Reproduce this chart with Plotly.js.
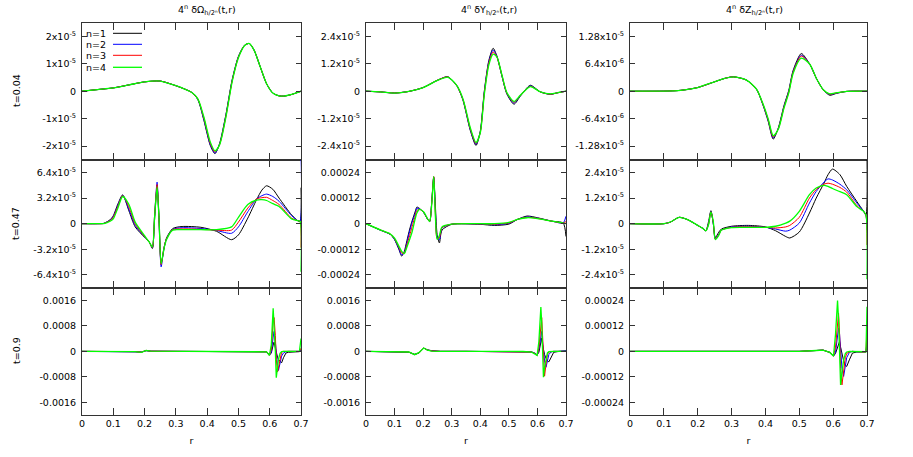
<!DOCTYPE html>
<html><head><meta charset="utf-8">
<script src="https://cdn.plot.ly/plotly-3.0.1.min.js"></script>
<style>html,body{margin:0;padding:0;background:#fff}#chart{width:913px;height:457px}</style>
</head><body><div id="chart"></div>
<script>
// ---------- DATA ----------
const seriesNames = ['n=1', 'n=2', 'n=3', 'n=4'];
const columnTitles = ['4<sup>n</sup> δΩ<sub>h/2ⁿ</sub>(t,r)', '4<sup>n</sup> δY<sub>h/2ⁿ</sub>(t,r)', '4<sup>n</sup> δZ<sub>h/2ⁿ</sub>(t,r)'];
const rowLabels = ['t=0.04', 't=0.47', 't=0.9'];
const xTickVals = [0, 0.1, 0.2, 0.3, 0.4, 0.5, 0.6, 0.7];
const xTickText = ['0', '0.1', '0.2', '0.3', '0.4', '0.5', '0.6', '0.7'];

// Row 1 (t=0.04), Omega, unit 1e-5
const A_unit = 1e-5;
const A_r  = [0, 0.05, 0.1, 0.15, 0.2, 0.25, 0.3, 0.33, 0.35, 0.37, 0.39, 0.41, 0.425, 0.44, 0.46, 0.48, 0.5, 0.52, 0.535, 0.55, 0.57, 0.59, 0.61, 0.63, 0.645, 0.67, 0.69, 0.7];
const A_n1 = [0, 0.06, 0.12, 0.23, 0.34, 0.37, 0.2, 0.07, -0.04, -0.3, -1.08, -1.98, -2.28, -1.9, -0.85, 0.42, 1.27, 1.68, 1.74, 1.5, 0.88, 0.27, -0.07, -0.17, -0.18, -0.12, -0.04, 0];
const A_n2 = [0, 0.06, 0.12, 0.23, 0.34, 0.37, 0.2, 0.07, -0.04, -0.29, -1.05, -1.95, -2.26, -1.92, -0.88, 0.4, 1.26, 1.68, 1.74, 1.5, 0.88, 0.27, -0.07, -0.17, -0.18, -0.12, -0.04, 0];
const A_n3 = [0, 0.06, 0.12, 0.23, 0.34, 0.37, 0.2, 0.07, -0.04, -0.28, -1.0, -1.9, -2.22, -1.94, -0.92, 0.37, 1.24, 1.68, 1.74, 1.5, 0.88, 0.27, -0.07, -0.17, -0.18, -0.12, -0.04, 0];
const A_n4 = [0, 0.06, 0.12, 0.23, 0.34, 0.37, 0.2, 0.07, -0.04, -0.27, -0.96, -1.85, -2.18, -1.95, -0.95, 0.35, 1.22, 1.67, 1.74, 1.5, 0.88, 0.27, -0.07, -0.17, -0.18, -0.12, -0.04, 0];

// Row 1 (t=0.04), Y, unit 1e-5
const B_unit = 1e-5;
const B_r  = [0, 0.05, 0.1, 0.15, 0.2, 0.25, 0.285, 0.3, 0.32, 0.34, 0.365, 0.385, 0.4, 0.414, 0.43, 0.445, 0.458, 0.476, 0.493, 0.518, 0.54, 0.575, 0.61, 0.645, 0.67, 0.7];
const B_n1 = [0, -0.03, -0.08, -0.01, 0.16, 0.48, 0.64, 0.5, 0.2, -0.42, -1.72, -2.38, -1.75, 0, 1.35, 1.88, 1.55, 0.65, -0.12, -0.57, -0.22, 0.26, -0.03, -0.14, -0.07, 0];
const B_n2 = [0, -0.03, -0.08, -0.01, 0.16, 0.48, 0.63, 0.5, 0.2, -0.4, -1.68, -2.33, -1.78, -0.05, 1.3, 1.8, 1.52, 0.66, -0.1, -0.52, -0.2, 0.23, -0.03, -0.13, -0.07, 0];
const B_n3 = [0, -0.03, -0.08, -0.01, 0.16, 0.48, 0.63, 0.5, 0.2, -0.38, -1.64, -2.29, -1.8, -0.1, 1.24, 1.72, 1.5, 0.68, -0.08, -0.48, -0.19, 0.21, -0.03, -0.13, -0.07, 0];
const B_n4 = [0, -0.03, -0.08, -0.01, 0.16, 0.47, 0.62, 0.5, 0.21, -0.36, -1.6, -2.25, -1.82, -0.15, 1.15, 1.62, 1.5, 0.7, -0.06, -0.45, -0.18, 0.2, -0.03, -0.12, -0.07, 0];

// Row 1 (t=0.04), Z, unit 1e-6
const C_unit = 1e-6;
const C_r  = [0, 0.1, 0.15, 0.2, 0.25, 0.28, 0.305, 0.344, 0.374, 0.393, 0.408, 0.423, 0.438, 0.455, 0.469, 0.482, 0.506, 0.531, 0.551, 0.571, 0.59, 0.61, 0.64, 0.7];
const C_n1 = [0, 0.02, 0.2, 0.86, 2.2, 3.0, 3.36, 2.6, 0.4, -3.3, -7.0, -11.2, -8.6, -3.3, 0.2, 4.9, 8.8, 6.3, 2.9, 0.3, -0.95, -0.5, -0.05, 0];
const C_n2 = [0, 0.02, 0.2, 0.86, 2.2, 3.0, 3.36, 2.6, 0.4, -3.2, -6.8, -10.9, -8.7, -3.5, 0.0, 4.7, 8.4, 6.3, 2.9, 0.3, -0.8, -0.45, -0.05, 0];
const C_n3 = [0, 0.02, 0.2, 0.86, 2.2, 3.0, 3.36, 2.6, 0.4, -3.1, -6.6, -10.7, -8.8, -3.7, -0.2, 4.5, 8.2, 6.3, 2.9, 0.3, -0.7, -0.4, -0.05, 0];
const C_n4 = [0, 0.02, 0.2, 0.86, 2.2, 3.0, 3.36, 2.6, 0.45, -3.0, -6.4, -10.4, -8.9, -3.9, -0.4, 4.2, 7.7, 6.3, 2.9, 0.35, -0.6, -0.35, -0.05, 0];

// Row 2 (t=0.47), Omega, unit 1e-5
const D_unit = 1e-5;
const D_r  = [0, 0.05, 0.07, 0.09, 0.1, 0.115, 0.13, 0.15, 0.17, 0.2, 0.215, 0.225, 0.232, 0.24, 0.246, 0.253, 0.262, 0.27, 0.29, 0.32, 0.38, 0.43, 0.478, 0.5, 0.53, 0.558, 0.575, 0.59, 0.61, 0.63, 0.67, 0.69, 0.697, 0.7];
const D_n1 = [0, 0, 0.05, 0.5, 1.0, 2.5, 3.6, 1.6, -0.4, -1.7, -2.3, -3.1, 0.5, 4.6, 1.0, -4.9, -3.2, -1.8, -0.6, -0.35, -0.45, -0.95, -2.0, -1.4, 0.7, 3.0, 4.2, 4.74, 4.3, 3.2, 1.1, 0.37, 0.3, 4.5];
const D_n2 = [0, 0, 0.04, 0.45, 0.9, 2.35, 3.55, 1.8, -0.2, -1.65, -2.3, -3.0, 1.0, 5.2, 0.5, -5.4, -3.0, -1.9, -0.7, -0.5, -0.6, -0.85, -1.2, -0.4, 1.5, 3.1, 3.5, 3.7, 3.4, 2.8, 1.0, 0.37, 0.3, 9.0];
const D_n3 = [0, 0, 0.03, 0.4, 0.8, 2.2, 3.5, 2.1, 0.0, -1.6, -2.3, -2.95, 1.0, 4.9, 0.6, -5.1, -3.0, -1.9, -0.75, -0.65, -0.7, -0.8, -0.8, 0.2, 1.95, 3.1, 3.25, 3.3, 2.9, 2.4, 0.7, 0.37, 0.3, -3.0];
const D_n4 = [0, 0, 0.02, 0.3, 0.6, 2.0, 3.4, 2.4, 0.2, -1.5, -2.3, -2.9, 0.8, 4.6, 0.8, -5.0, -3.1, -2.0, -0.8, -0.75, -0.75, -0.75, -0.4, 0.8, 2.4, 2.95, 3.0, 2.9, 2.5, 2.16, 0.6, 0.37, 0.3, -6.0];

// Row 2 (t=0.47), Y, unit 1e-4
const E_unit = 1e-4;
const E_r  = [0, 0.05, 0.085, 0.1, 0.115, 0.125, 0.134, 0.143, 0.153, 0.161, 0.173, 0.178, 0.187, 0.202, 0.216, 0.223, 0.23, 0.237, 0.243, 0.249, 0.257, 0.266, 0.3, 0.4, 0.45, 0.5, 0.53, 0.564, 0.6, 0.65, 0.69, 0.7];
const E_n1 = [0, -0.3, -0.5, -0.75, -1.2, -1.52, -1.3, -0.8, -0.25, 0.12, 0.6, 0.78, 0.72, 0.52, 0.2, 0.1, 1.0, 2.2, 0.8, -0.5, -0.9, -0.3, -0.03, -0.03, -0.08, -0.02, 0.2, 0.36, 0.28, 0.12, 0.03, -0.6];
const E_n2 = [0, -0.3, -0.5, -0.73, -1.17, -1.47, -1.35, -0.9, -0.35, 0.05, 0.52, 0.73, 0.7, 0.52, 0.2, 0.1, 1.0, 2.15, 0.6, -0.65, -0.75, -0.2, -0.02, -0.02, -0.05, 0.02, 0.2, 0.32, 0.26, 0.12, 0.03, 0.35];
const E_n3 = [0, -0.29, -0.49, -0.7, -1.1, -1.38, -1.38, -1.0, -0.55, -0.15, 0.4, 0.62, 0.68, 0.53, 0.21, 0.1, 0.95, 2.2, 0.45, -0.7, -0.65, -0.18, -0.02, -0.01, -0.02, 0.04, 0.2, 0.3, 0.25, 0.12, 0.03, 0.1];
const E_n4 = [0, -0.29, -0.48, -0.68, -1.05, -1.3, -1.4, -1.1, -0.73, -0.4, 0.28, 0.5, 0.67, 0.55, 0.22, 0.1, 0.9, 2.2, 0.3, -0.73, -0.55, -0.15, -0.02, 0.0, 0.0, 0.06, 0.2, 0.28, 0.24, 0.12, 0.03, 0];

// Row 2 (t=0.47), Z, unit 1e-5
const F_unit = 1e-5;
const F_r  = [0, 0.1, 0.12, 0.145, 0.17, 0.2, 0.215, 0.224, 0.232, 0.239, 0.246, 0.252, 0.262, 0.27, 0.3, 0.35, 0.4, 0.43, 0.46, 0.472, 0.5, 0.53, 0.55, 0.573, 0.585, 0.598, 0.62, 0.64, 0.67, 0.69, 0.697, 0.7];
const F_n1 = [0, 0, 0.08, 0.3, 0.19, -0.08, -0.22, -0.33, 0.1, 0.61, 0.0, -0.65, -0.4, -0.25, -0.12, -0.08, -0.15, -0.33, -0.6, -0.67, -0.39, 0.5, 1.2, 1.9, 2.3, 2.56, 2.3, 1.75, 1.04, 0.58, 0.4, 3.2];
const F_n2 = [0, 0, 0.08, 0.3, 0.19, -0.08, -0.22, -0.33, 0.0, 0.58, 0.0, -0.72, -0.5, -0.3, -0.15, -0.12, -0.17, -0.25, -0.35, -0.3, 0.03, 0.97, 1.51, 1.95, 2.1, 2.05, 1.85, 1.59, 0.97, 0.58, 0.4, -0.3];
const F_n3 = [0, 0, 0.08, 0.3, 0.19, -0.08, -0.22, -0.33, -0.02, 0.56, 0.05, -0.74, -0.52, -0.3, -0.17, -0.15, -0.17, -0.2, -0.15, -0.08, 0.3, 1.2, 1.6, 1.85, 1.9, 1.85, 1.7, 1.48, 0.85, 0.58, 0.4, -1.0];
const F_n4 = [0, 0, 0.08, 0.3, 0.19, -0.08, -0.22, -0.33, -0.05, 0.55, 0.1, -0.75, -0.55, -0.3, -0.18, -0.17, -0.17, -0.12, 0.03, 0.12, 0.58, 1.36, 1.67, 1.8, 1.75, 1.65, 1.5, 1.36, 0.8, 0.58, 0.4, -2.6];

// Row 3 (t=0.9), Omega, unit 1e-4
const G_unit = 1e-4;
const G_r  = [0, 0.1, 0.13, 0.17, 0.19, 0.205, 0.22, 0.3, 0.4, 0.5, 0.57, 0.59, 0.599, 0.605, 0.611, 0.614, 0.618, 0.621, 0.625, 0.628, 0.633, 0.638, 0.644, 0.652, 0.66, 0.68, 0.695, 0.7];
const G_n1 = [0, 0, -0.15, -0.1, -0.25, 0.2, 0.05, 0, 0, 0, 0.05, -0.15, -1.1, -0.6, 2.0, 2.9, 1.0, -0.5, -1.8, -2.6, -3.3, -3.6, -2.0, -0.5, -0.3, -0.3, -0.1, 0.5];
const G_n2 = [0, 0, -0.1, -0.1, -0.2, 0.25, 0.05, 0, 0, 0, 0.05, -0.15, -1.2, -0.4, 4.5, 6.25, 3.0, -1.0, -4.5, -6.0, -4.0, -1.5, -0.5, -0.1, 0, 0, 0, 0.3];
const G_n3 = [0, 0, -0.08, -0.1, -0.25, 0.3, 0.05, 0, 0, 0, 0.05, -0.15, -1.25, 0.5, 9.5, 10.6, 5.0, -2.5, -6.5, -5.0, -2.0, -0.3, 0, 0, 0, 0, 0, 1.0];
const G_n4 = [0, 0, -0.05, -0.1, -0.3, 0.3, 0.05, 0, 0, 0, 0.05, -0.15, -1.25, 2.0, 13.5, 9.0, 0.0, -8.3, -5.0, -2.5, -0.6, -0.1, 0, 0, 0, 0, 0, 4.0];

// Row 3 (t=0.9), Y, unit 1e-4
const H_unit = 1e-4;
const H_r  = [0, 0.1, 0.15, 0.17, 0.185, 0.202, 0.215, 0.23, 0.26, 0.35, 0.45, 0.55, 0.58, 0.592, 0.599, 0.605, 0.612, 0.615, 0.618, 0.621, 0.625, 0.63, 0.635, 0.64, 0.648, 0.657, 0.67, 0.69, 0.7];
const H_n1 = [0, -0.2, -0.3, -0.9, -0.6, 1.0, 0.5, 0.2, 0, 0, 0, -0.05, -0.2, -0.6, -1.1, -0.3, 3.0, 4.2, 2.0, 0.3, -1.0, -2.2, -3.0, -3.3, -2.0, -0.3, -0.1, 0, 0.2];
const H_n2 = [0, -0.15, -0.25, -1.0, -0.5, 1.05, 0.4, 0.15, 0, 0, 0, -0.05, -0.2, -0.7, -1.2, 0.5, 5.5, 6.25, 3.0, -0.5, -3.0, -5.0, -3.0, -1.0, -0.2, 0, 0, 0, 0.2];
const H_n3 = [0, -0.12, -0.22, -1.02, -0.45, 1.05, 0.38, 0.12, 0, 0, 0, -0.05, -0.22, -0.75, -1.25, 1.0, 9.5, 10.6, 5.0, -2.0, -7.8, -4.0, -1.0, -0.2, 0, 0, 0, 0, 0];
const H_n4 = [0, -0.1, -0.2, -1.05, -0.4, 1.05, 0.35, 0.1, 0, 0, 0, -0.05, -0.25, -0.8, -1.25, 3.0, 13.9, 9.0, 0.0, -8.1, -5.0, -2.0, -0.5, -0.1, 0, 0, 0, 0, 0];

// Row 3 (t=0.9), Z, unit 1e-5
const I_unit = 1e-5;
const I_r  = [0, 0.3, 0.4, 0.5, 0.55, 0.57, 0.59, 0.596, 0.601, 0.607, 0.613, 0.616, 0.619, 0.622, 0.626, 0.631, 0.636, 0.64, 0.648, 0.657, 0.67, 0.69, 0.697, 0.7];
const I_n1 = [0, 0, 0, 0, 0.4, 0.6, -0.5, -1.5, -2.2, -1.0, 1.5, 3.0, 4.7, 2.0, -1.5, -4.5, -6.5, -7.1, -4.0, -0.8, -0.3, -0.4, -0.3, 4.7];
const I_n2 = [0, 0, 0, 0, 0.4, 0.6, -0.5, -1.5, -2.2, -0.5, 6.0, 11.0, 8.0, 0.0, -8.0, -11.8, -7.0, -3.0, -0.5, 0, -0.2, -0.3, -0.2, 3.0];
const I_n3 = [0, 0, 0, 0, 0.4, 0.6, -0.5, -1.5, -2.2, 2.0, 14.0, 18.0, 8.0, -8.0, -15.8, -9.0, -3.0, -1.0, -0.3, 0, -0.2, -0.3, -0.2, 11.0];
const I_n4 = [0, 0, 0, 0, 0.4, 0.6, -0.5, -1.5, -2.2, 8.0, 24.0, 15.0, 0.0, -15.8, -10.0, -4.0, -1.0, -0.3, 0, 0, -0.2, -0.3, -0.2, 21.0];

// Y tick values / labels per panel
const A_ytv = [2e-5, 1e-5, 0, -1e-5, -2e-5];
const A_ytt = ['2x10<sup>-5</sup>', '1x10<sup>-5</sup>', '0', '-1x10<sup>-5</sup>', '-2x10<sup>-5</sup>'];
const B_ytv = [2.4e-5, 1.2e-5, 0, -1.2e-5, -2.4e-5];
const B_ytt = ['2.4x10<sup>-5</sup>', '1.2x10<sup>-5</sup>', '0', '-1.2x10<sup>-5</sup>', '-2.4x10<sup>-5</sup>'];
const C_ytv = [1.28e-5, 6.4e-6, 0, -6.4e-6, -1.28e-5];
const C_ytt = ['1.28x10<sup>-5</sup>', '6.4x10<sup>-6</sup>', '0', '-6.4x10<sup>-6</sup>', '-1.28x10<sup>-5</sup>'];
const D_ytv = [6.4e-5, 3.2e-5, 0, -3.2e-5, -6.4e-5];
const D_ytt = ['6.4x10<sup>-5</sup>', '3.2x10<sup>-5</sup>', '0', '-3.2x10<sup>-5</sup>', '-6.4x10<sup>-5</sup>'];
const E_ytv = [0.00024, 0.00012, 0, -0.00012, -0.00024];
const E_ytt = ['0.00024', '0.00012', '0', '-0.00012', '-0.00024'];
const F_ytv = [2.4e-5, 1.2e-5, 0, -1.2e-5, -2.4e-5];
const F_ytt = ['2.4x10<sup>-5</sup>', '1.2x10<sup>-5</sup>', '0', '-1.2x10<sup>-5</sup>', '-2.4x10<sup>-5</sup>'];
const G_ytv = [0.0016, 0.0008, 0, -0.0008, -0.0016];
const G_ytt = ['0.0016', '0.0008', '0', '-0.0008', '-0.0016'];
const H_ytv = [0.0016, 0.0008, 0, -0.0008, -0.0016];
const H_ytt = ['0.0016', '0.0008', '0', '-0.0008', '-0.0016'];
const I_ytv = [0.00024, 0.00012, 0, -0.00012, -0.00024];
const I_ytt = ['0.00024', '0.00012', '0', '-0.00012', '-0.00024'];

// ---------- LAYOUT / STYLE ----------
const W = 913, H = 457;
const colors = ['#000000', '#0000ff', '#ff0000', '#00ff00'];
const widths = [1, 1, 1, 1.3];
const colPx = [[82, 301], [366, 566], [630, 867]];
const rowPx = [[22.7, 159.7], [159.7, 287.7], [287.7, 415]];
const yRanges = [[-2.5e-5, 2.5e-5], [-3e-5, 3e-5], [-1.6e-5, 1.6e-5],
                 [-8e-5, 8e-5], [-3e-4, 3e-4], [-3e-5, 3e-5],
                 [-2e-3, 2e-3], [-2e-3, 2e-3], [-3e-4, 3e-4]];

const panels = [
  {r: A_r, s: [A_n1, A_n2, A_n3, A_n4], u: A_unit, tv: A_ytv, tt: A_ytt},
  {r: B_r, s: [B_n1, B_n2, B_n3, B_n4], u: B_unit, tv: B_ytv, tt: B_ytt},
  {r: C_r, s: [C_n1, C_n2, C_n3, C_n4], u: C_unit, tv: C_ytv, tt: C_ytt},
  {r: D_r, s: [D_n1, D_n2, D_n3, D_n4], u: D_unit, tv: D_ytv, tt: D_ytt},
  {r: E_r, s: [E_n1, E_n2, E_n3, E_n4], u: E_unit, tv: E_ytv, tt: E_ytt},
  {r: F_r, s: [F_n1, F_n2, F_n3, F_n4], u: F_unit, tv: F_ytv, tt: F_ytt},
  {r: G_r, s: [G_n1, G_n2, G_n3, G_n4], u: G_unit, tv: G_ytv, tt: G_ytt},
  {r: H_r, s: [H_n1, H_n2, H_n3, H_n4], u: H_unit, tv: H_ytv, tt: H_ytt},
  {r: I_r, s: [I_n1, I_n2, I_n3, I_n4], u: I_unit, tv: I_ytv, tt: I_ytt}
];

const px = x => x / W;
const py = y => 1 - y / H;
const font = {family: 'DejaVu Sans, sans-serif', size: 9.5, color: '#000'};
const lineCol = '#333';

const traces = [];
const layout = {
  width: W, height: H,
  margin: {l: 0, r: 0, t: 0, b: 0},
  paper_bgcolor: '#fff', plot_bgcolor: '#fff',
  showlegend: false,
  font: font,
  annotations: [], shapes: []
};

panels.forEach((p, i) => {
  const row = Math.floor(i / 3), col = i % 3;
  const k = i + 1;
  const xa = 'x' + (k === 1 ? '' : k), ya = 'y' + (k === 1 ? '' : k);
  p.s.forEach((vals, j) => {
    traces.push({
      type: 'scatter', mode: 'lines',
      x: p.r, y: vals.map(v => v * p.u),
      xaxis: xa, yaxis: ya, name: seriesNames[j],
      line: {color: colors[j], width: widths[j], shape: row === 2 ? 'linear' : 'spline', smoothing: 0.7},
      hoverinfo: 'skip'
    });
  });
  layout['xaxis' + (k === 1 ? '' : k)] = {
    domain: [px(colPx[col][0]), px(colPx[col][1])],
    anchor: ya, range: [0, 0.7],
    tickvals: xTickVals, ticktext: xTickText,
    showticklabels: row === 2,
    ticks: 'inside', ticklen: 7, tickwidth: 1, tickcolor: lineCol,
    showline: true, linecolor: lineCol, linewidth: 1, mirror: 'ticks',
    showgrid: false, zeroline: false, fixedrange: true,
    tickfont: font,
    title: row === 2 ? {text: 'r', font: font, standoff: 8} : {text: ''}
  };
  layout['yaxis' + (k === 1 ? '' : k)] = {
    domain: [py(rowPx[row][1]), py(rowPx[row][0])],
    anchor: xa, range: yRanges[i],
    tickvals: p.tv, ticktext: p.tt,
    ticks: 'inside', ticklen: 5, tickwidth: 1, tickcolor: lineCol,
    showline: true, linecolor: lineCol, linewidth: 1, mirror: 'ticks',
    showgrid: false, zeroline: false, fixedrange: true,
    tickfont: font, ticklabelstandoff: 3
  };
});

// column titles
const titleX = [206.5, 489, 754];
columnTitles.forEach((t, c) => {
  layout.annotations.push({text: t, xref: 'paper', yref: 'paper', x: px(titleX[c]), y: py(10),
    xanchor: 'center', yanchor: 'middle', showarrow: false, font: font});
});
// row labels
const rowLabelY = [91, 224, 351];
rowLabels.forEach((t, rI) => {
  layout.annotations.push({text: t, xref: 'paper', yref: 'paper', x: px(16), y: py(rowLabelY[rI]),
    xanchor: 'center', yanchor: 'middle', textangle: -90, showarrow: false, font: font});
});
// key (text then line sample, as in the original)
const keyY = [33.3, 44.3, 55.3, 67.3];
seriesNames.forEach((n, j) => {
  layout.annotations.push({text: n, xref: 'paper', yref: 'paper', x: px(108), y: py(keyY[j]),
    xanchor: 'right', yanchor: 'middle', showarrow: false, font: font});
  layout.shapes.push({type: 'line', xref: 'paper', yref: 'paper',
    x0: px(113), x1: px(142), y0: py(keyY[j]), y1: py(keyY[j]),
    line: {color: colors[j], width: widths[j]}});
});

Plotly.newPlot('chart', traces, layout, {displayModeBar: false, staticPlot: true});
</script></body></html>
